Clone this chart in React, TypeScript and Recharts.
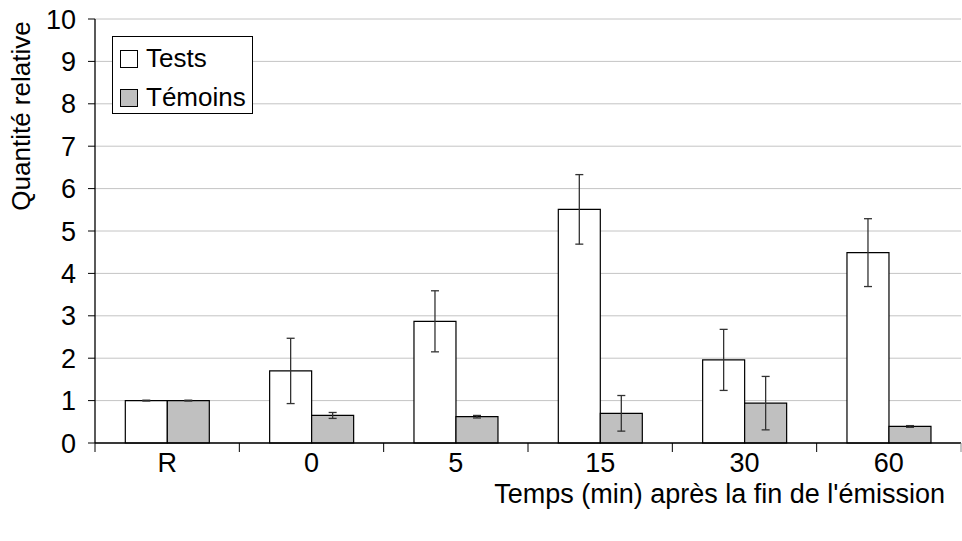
import React from "react"
import {
  BarChart,
  Bar,
  XAxis,
  YAxis,
  CartesianGrid,
  ErrorBar,
  Legend,
} from "recharts"

const categories = ["R", "0", "5", "15", "30", "60"]
const tests = [1, 1.7, 2.87, 5.51, 1.96, 4.49]
const testsErr = [0.01, 0.77, 0.72, 0.82, 0.72, 0.8]
const temoins = [1, 0.65, 0.62, 0.7, 0.94, 0.39]
const temoinsErr = [0.01, 0.07, 0.03, 0.42, 0.63, 0.02]
const yTicks = [0, 1, 2, 3, 4, 5, 6, 7, 8, 9, 10]

const X_TITLE = "Temps (min) après la fin de l'émission"
const Y_TITLE = "Quantité relative"

const W = 962
const H = 541
const LEFT = 95
const TOP = 19
const RIGHT = 1
const X_AXIS_H = 98
const AXIS_Y = H - X_AXIS_H
const BAND = (W - LEFT - RIGHT) / categories.length
const FONT = "'Liberation Sans', Arial, sans-serif"

const rows = categories.map((name, i) => ({
  name,
  tests: tests[i],
  testsErr: testsErr[i],
  temoins: temoins[i],
  temoinsErr: temoinsErr[i],
}))

function CategoryTick(props: any) {
  const { x, payload, index } = props
  const last = index === categories.length - 1
  return (
    <g>
      <line x1={x - BAND / 2} x2={x - BAND / 2} y1={AXIS_Y} y2={AXIS_Y + 9} stroke="#000" />
      {last && <line x1={x + BAND / 2} x2={x + BAND / 2} y1={AXIS_Y} y2={AXIS_Y + 9} stroke="#888" />}
      <text x={x} y={472} textAnchor="middle" fontSize={27} fontFamily={FONT} fill="#000">
        {payload.value}
      </text>
    </g>
  )
}

function LegendBox() {
  return (
    <svg width={141} height={78}>
      <rect x={0.5} y={0.5} width={140} height={77} fill="#fff" stroke="#000" />
      <rect x={8.5} y={14.5} width={17} height={17} fill="#fff" stroke="#000" />
      <text x={34} y={31} fontSize={26} fontFamily={FONT} fill="#000">Tests</text>
      <rect x={8.5} y={53.5} width={17} height={17} fill="#c0c0c0" stroke="#000" />
      <text x={34} y={70} fontSize={26} fontFamily={FONT} fill="#000">Témoins</text>
    </svg>
  )
}

export default function App() {
  return (
    <div style={{ position: "absolute", left: 0, top: 0, width: W, height: H, background: "#fff" }}>
      <BarChart
        width={W}
        height={H}
        data={rows}
        margin={{ top: TOP, right: RIGHT, left: 0, bottom: 0 }}
        barCategoryGap="21%"
        barGap={0}
      >
        <CartesianGrid vertical={false} stroke="#c4c4c4" />
        <XAxis
          dataKey="name"
          height={X_AXIS_H}
          axisLine={{ stroke: "#000", strokeWidth: 1.3 }}
          tickLine={false}
          tick={<CategoryTick />}
          interval={0}
          label={{
            content: () => (
              <text x={945} y={503} textAnchor="end" fontSize={27} fontFamily={FONT} fill="#000">
                {X_TITLE}
              </text>
            ),
          }}
        />
        <XAxis xAxisId="top" dataKey="name" orientation="top" height={0} tick={false} tickLine={false} axisLine={{ stroke: "#444", strokeWidth: 1.5 }} />
        <YAxis
          width={LEFT}
          domain={[0, 10]}
          ticks={yTicks}
          interval={0}
          tickSize={7}
          tickMargin={12}
          axisLine={{ stroke: "#000", strokeWidth: 1.3 }}
          tickLine={{ stroke: "#000" }}
          tick={{ fontSize: 27, fontFamily: FONT, fill: "#000" }}
          label={{
            content: () => (
              <text
                x={30}
                y={116}
                transform="rotate(-90 30 116)"
                textAnchor="middle"
                fontSize={26}
                fontFamily={FONT}
                fill="#000"
              >
                {Y_TITLE}
              </text>
            ),
          }}
        />
        <YAxis yAxisId="right" orientation="right" width={0} domain={[0, 10]} tick={false} tickLine={false} axisLine={{ stroke: "#999" }} />
        <Legend
          layout="vertical"
          align="center"
          verticalAlign="middle"
          content={() => <LegendBox />}
          wrapperStyle={{ left: 112, top: 36, width: 141, height: 78 }}
        />
        <Bar dataKey="tests" name="Tests" fill="#fff" stroke="#000" strokeWidth={1.2} isAnimationActive={false}>
          <ErrorBar dataKey="testsErr" width={4} stroke="#333" strokeWidth={1.3} isAnimationActive={false} />
        </Bar>
        <Bar dataKey="temoins" name="Témoins" fill="#c0c0c0" stroke="#000" strokeWidth={1.2} isAnimationActive={false}>
          <ErrorBar dataKey="temoinsErr" width={4} stroke="#333" strokeWidth={1.3} isAnimationActive={false} />
        </Bar>
      </BarChart>
    </div>
  )
}
